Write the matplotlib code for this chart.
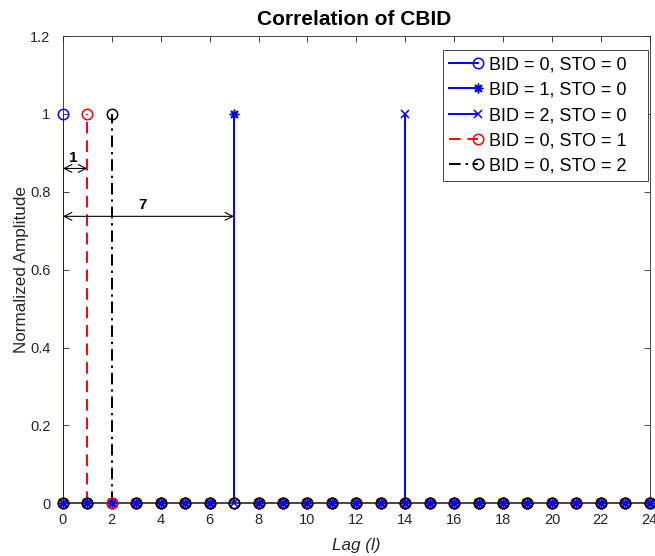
import numpy as np
import matplotlib.pyplot as plt
from matplotlib.lines import Line2D
from matplotlib.legend_handler import HandlerBase

plt.rcParams['font.family'] = ['Liberation Sans', 'DejaVu Sans']

lags = np.arange(0, 25)

# normalized correlation peaks for each BID / STO combination
peak_lag = [0, 7, 14, 1, 2]
peak_val = [1.0, 1.0, 1.0, 1.0, 1.0]
labels = ['BID = 0, STO = 0', 'BID = 1, STO = 0', 'BID = 2, STO = 0',
          'BID = 0, STO = 1', 'BID = 0, STO = 2']
colors = ['#0000ff', '#0000ff', '#0000ff', '#ff0000', '#000000']
markers = ['o', (8, 2, 0), 'x', 'o', 'o']
msizes = [7.5, 7, 5.5, 7.5, 7.5]
styles = ['-', '-', '-', (0, (6, 3.5)), (0, (6, 2.5, 1.2, 2.5))]

# spacing annotations: (start lag, end lag, y, text x, text)
spans = [(0, 1, 0.86, 0.42, '1'), (0, 7, 0.737, 3.27, '7')]


class StemHandler(HandlerBase):
    """Legend entry: line with the marker at its right end."""
    def __init__(self, ls):
        super().__init__()
        self.ls = ls

    def create_artists(self, legend, orig, xdescent, ydescent, width,
                       height, fontsize, trans):
        y = height / 2 - ydescent
        ln = Line2D([-xdescent, width - xdescent], [y, y],
                    color=orig.get_color(), ls=self.ls,
                    lw=orig.get_linewidth())
        mk = Line2D([width - xdescent], [y], ls='none',
                    marker=orig.get_marker(), color=orig.get_color(),
                    ms=orig.get_markersize(), mfc='none',
                    mew=orig.get_markeredgewidth())
        ln.set_transform(trans)
        mk.set_transform(trans)
        return [ln, mk]


fig = plt.figure(figsize=(6.55, 5.56), dpi=100)
ax = fig.add_axes([0.096, 0.095, 0.896, 0.84])

ax.axhline(0, color='#262626', lw=1.2, zorder=1)

handles = []
hmap = {}
for k in range(len(labels)):
    vals = np.zeros(len(lags))
    vals[lags == peak_lag[k]] = peak_val[k]
    ax.vlines(lags, 0, vals, colors=colors[k], linestyles=styles[k],
              lw=1.4, zorder=2)
    ax.plot(lags, vals, ls='none', marker=markers[k], color=colors[k],
            mfc='none', ms=msizes[k], mew=1.1, zorder=3, clip_on=False)
    h = Line2D([], [], color=colors[k], lw=1.4, marker=markers[k],
               ms=msizes[k], mew=1.1)
    handles.append(h)
    hmap[h] = StemHandler(styles[k])

for x0, x1, y, tx, txt in spans:
    ax.annotate('', xy=(x1, y), xytext=(x0, y),
                arrowprops=dict(arrowstyle='<->', color='black', lw=0.8,
                                shrinkA=0, shrinkB=0,
                                mutation_scale=14))
    ax.text(tx, y + 0.01, txt, ha='center', va='bottom',
            fontsize=11, fontweight='bold')

ax.set_xlim(0, 24)
ax.set_ylim(0, 1.2)
ax.set_xticks(np.arange(0, 25, 2))
ax.set_yticks(np.arange(0, 1.21, 0.2))
ax.set_yticklabels(['0', '0.2', '0.4', '0.6', '0.8', '1', '1.2'])
ax.tick_params(direction='in', top=True, right=True, length=4,
               labelsize=10.5, colors='#262626', width=0.6)
ax.tick_params(axis='x', pad=7)
ax.tick_params(axis='y', pad=9)
for s in ax.spines.values():
    s.set_color('#262626')
    s.set_linewidth(0.6)

ax.set_title('Correlation of CBID', fontsize=15, fontweight='bold', pad=8,
             x=0.497)
ax.set_xlabel('Lag (l)', fontsize=12.3, style='italic', color='#262626',
              labelpad=8)
ax.set_ylabel('Normalized Amplitude', fontsize=12.3, color='#262626',
              labelpad=0.5)

leg = ax.legend(handles, labels, loc='upper right',
                bbox_to_anchor=(0.647, 0.5, 0.3495, 0.47), mode='expand',
                borderaxespad=0, fontsize=13, handler_map=hmap,
                handlelength=1.6, handletextpad=0.6, labelspacing=0.46,
                borderpad=0.35, fancybox=False, framealpha=1,
                edgecolor='#262626')
leg.get_frame().set_linewidth(0.6)

fig.savefig('out.png', dpi=100)
